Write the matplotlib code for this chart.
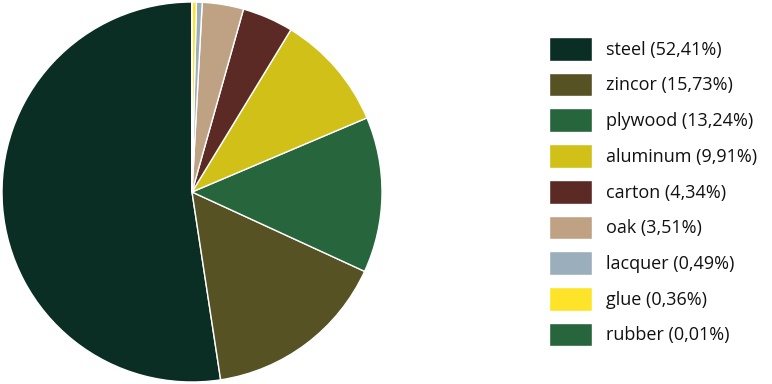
import matplotlib.pyplot as plt

materials = ["steel", "zincor", "plywood", "aluminum", "carton", "oak", "lacquer", "glue", "rubber"]
shares = [52.41, 15.73, 13.24, 9.91, 4.34, 3.51, 0.49, 0.36, 0.01]
colors = ["#0a2e24", "#575223", "#27663c", "#d0c018", "#5c2a25",
          "#bfa283", "#9aafbb", "#fde428", "#27663c"]

plt.rcParams['font.family'] = ['Open Sans', 'DejaVu Sans']

fig = plt.figure(figsize=(7.72, 3.84), dpi=100)
ax = fig.add_axes([2 / 772, 2 / 384, 380 / 772, 380 / 384])

wedges, _ = ax.pie(shares, colors=colors, startangle=90, counterclock=True,
                   wedgeprops=dict(edgecolor="white", linewidth=1))
ax.set_xlim(-1, 1)
ax.set_ylim(-1, 1)
ax.set_aspect("equal")

labels = [f"{m} ({s:.2f}%)".replace(".", ",") for m, s in zip(materials, shares)]
leg = fig.legend(wedges, labels, loc="upper left", bbox_to_anchor=(549 / 772, 1 - 37 / 384),
                 frameon=False, fontsize=13, handlelength=2.4, handleheight=1.65,
                 handletextpad=0.75, labelspacing=0.66, borderaxespad=0, borderpad=0)
for t in leg.get_texts():
    t.set_color("#111111")

fig.savefig("out.png", dpi=100)
